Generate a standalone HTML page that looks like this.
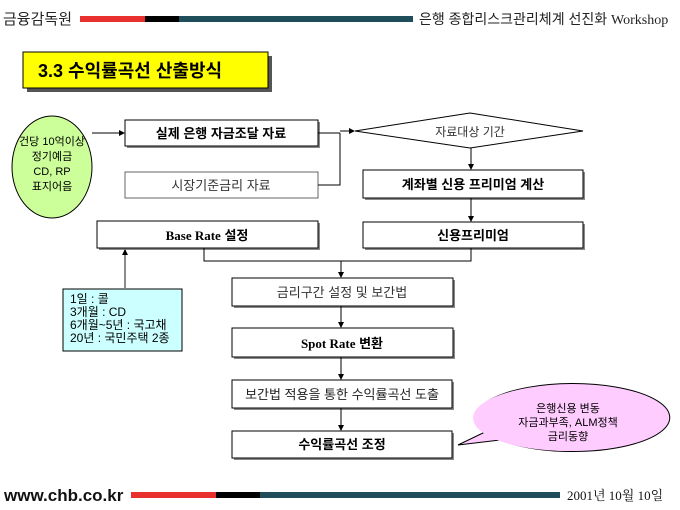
<!DOCTYPE html>
<html><head><meta charset="utf-8"><style>
html,body{margin:0;padding:0;background:#fff;}
svg{display:block;}
text{font-family:"Liberation Sans","Noto Sans CJK KR",sans-serif;}
.s{font-family:"Liberation Serif","Noto Serif CJK SC","Noto Sans CJK KR",serif;}
</style></head><body>
<svg width="680" height="510" viewBox="0 0 680 510" xmlns="http://www.w3.org/2000/svg">
<defs>
<marker id="a" markerWidth="6" markerHeight="6" refX="5" refY="3" orient="auto" markerUnits="userSpaceOnUse"><path d="M0,0 L6,3 L0,6 z" fill="#000"/></marker>
</defs>
<!-- header -->
<text x="3" y="24" font-size="15" fill="#222">금융감독원</text>
<rect x="80" y="16" width="65" height="6" fill="#e8312f"/>
<rect x="145" y="16" width="34" height="6" fill="#000"/>
<rect x="179" y="16" width="234" height="6" fill="#1f4e5a"/>
<text x="419" y="24" font-size="14" fill="#222">은행 종합리스크관리체계 선진화 <tspan class="s" font-size="14">Workshop</tspan></text>
<!-- title -->
<rect x="27" y="56" width="245" height="36" fill="#555"/>
<rect x="23" y="52" width="245" height="36" fill="#ffff00" stroke="#000" stroke-width="1"/>
<text x="38" y="77" font-size="18" font-weight="bold" fill="#000">3.3  수익률곡선 산출방식</text>
<!-- ellipse -->
<ellipse cx="52" cy="167" rx="40" ry="51" fill="#ccff99" stroke="#000"/>
<text font-size="11" text-anchor="middle" fill="#000">
<tspan x="52" y="145">건당 10억이상</tspan><tspan x="52" y="160">정기예금</tspan><tspan x="52" y="175">CD, RP</tspan><tspan x="52" y="190">표지어음</tspan></text>
<line x1="92" y1="133" x2="124" y2="133" stroke="#000" marker-end="url(#a)"/>
<!-- boxes with shadow -->
<g stroke="#000" fill="#fff">
<rect x="127" y="122" width="193" height="26" fill="#888" stroke="none"/>
<rect x="125" y="120" width="193" height="26"/>
<rect x="125" y="172" width="193" height="26" stroke="#666"/>
<rect x="99" y="223" width="221" height="27" fill="#888" stroke="none"/>
<rect x="97" y="221" width="221" height="27"/>
<rect x="365" y="172" width="220" height="28" fill="#888" stroke="none"/>
<rect x="363" y="170" width="220" height="28"/>
<rect x="365" y="224" width="220" height="26" fill="#888" stroke="none"/>
<rect x="363" y="222" width="220" height="26"/>
<rect x="234" y="280" width="221" height="28" fill="#888" stroke="none"/>
<rect x="232" y="278" width="221" height="28"/>
<rect x="234" y="330" width="221" height="29" fill="#888" stroke="none"/>
<rect x="232" y="328" width="221" height="29"/>
<rect x="234" y="382" width="220" height="28" fill="#888" stroke="none"/>
<rect x="232" y="380" width="220" height="28"/>
<rect x="234" y="433" width="220" height="27" fill="#888" stroke="none"/>
<rect x="232" y="431" width="220" height="27"/>
</g>
<polygon points="355,131 470,113 583,131 470,148" fill="#fff" stroke="#000"/>
<!-- connectors -->
<g stroke="#000" fill="none">
<polyline points="318,133 340,133"/>
<polyline points="318,185 340,185 340,133"/>
<line x1="340" y1="131" x2="354" y2="131" marker-end="url(#a)"/>
<line x1="471" y1="148" x2="471" y2="169" marker-end="url(#a)"/>
<line x1="471" y1="198" x2="471" y2="221" marker-end="url(#a)"/>
<polyline points="204,248 204,261 471,261 471,248"/>
<line x1="341" y1="261" x2="341" y2="277" marker-end="url(#a)"/>
<line x1="341" y1="306" x2="341" y2="327" marker-end="url(#a)"/>
<line x1="341" y1="357" x2="341" y2="379" marker-end="url(#a)"/>
<line x1="341" y1="408" x2="341" y2="430" marker-end="url(#a)"/>
</g>
<line x1="125" y1="288" x2="125" y2="250" stroke="#666" stroke-width="1.5" marker-end="url(#a)"/>
<!-- texts -->
<g font-size="13" text-anchor="middle" fill="#000">
<text x="221" y="138" font-weight="bold">실제 은행 자금조달 자료</text>
<text x="221" y="190" fill="#333">시장기준금리 자료</text>
<text x="207" y="240" font-weight="bold"><tspan class="s">Base Rate</tspan> 설정</text>
<text x="470" y="136" font-size="12" fill="#333">자료대상 기간</text>
<text x="473" y="189" font-weight="bold">계좌별 신용 프리미엄 계산</text>
<text x="473" y="240" font-weight="bold">신용프리미엄</text>
<text x="342" y="297" fill="#333">금리구간 설정 및 보간법</text>
<text x="342" y="348" font-weight="bold"><tspan class="s">Spot Rate</tspan> 변환</text>
<text x="342" y="399" fill="#222">보간법 적용을 통한 수익률곡선 도출</text>
<text x="342" y="449" font-weight="bold">수익률곡선 조정</text>
</g>
<!-- info box -->
<rect x="63" y="289" width="119" height="62" fill="#ccffff" stroke="#000"/>
<text font-size="12" fill="#000"><tspan x="70" y="303">1일 : 콜</tspan><tspan x="70" y="316">3개월 : CD</tspan><tspan x="70" y="329">6개월~5년 : 국고채</tspan><tspan x="70" y="342">20년 : 국민주택 2종</tspan></text>
<!-- bubble -->
<path d="M458,445 L485,432 A97,34 0 1 1 500,440 Z" fill="#ffccff" stroke="#000"/>
<ellipse cx="568" cy="418" rx="95" ry="33" fill="#ffccff"/>
<text font-size="11" text-anchor="middle" fill="#000"><tspan x="568" y="412">은행신용 변동</tspan><tspan x="568" y="426">자금과부족, ALM정책</tspan><tspan x="568" y="440">금리동향</tspan></text>
<!-- footer -->
<text x="4" y="501" font-size="17" font-weight="bold" fill="#111">www.chb.co.kr</text>
<rect x="131" y="492" width="85" height="6" fill="#e8312f"/>
<rect x="216" y="492" width="44" height="6" fill="#000"/>
<rect x="260" y="492" width="300" height="6" fill="#1f4e5a"/>
<text x="567" y="500" font-size="13" class="s" fill="#111">2001년 10월 10일</text>
</svg>
</body></html>
